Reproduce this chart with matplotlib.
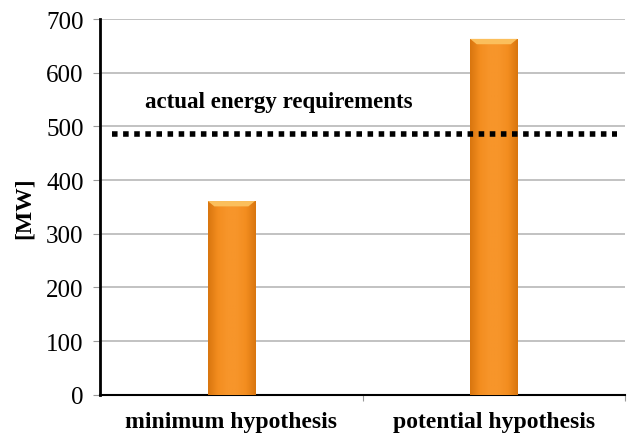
import matplotlib.pyplot as plt
import numpy as np
from matplotlib.colors import LinearSegmentedColormap

plt.rcParams['font.family'] = ['Liberation Serif', 'DejaVu Serif']

# data
categories = ['minimum hypothesis', 'potential hypothesis']
power_mw = [361, 663]
requirement_mw = 486
requirement_label = 'actual energy requirements'

fig = plt.figure(figsize=(6.3, 4.35), dpi=100)
ax = fig.add_axes([0.159, 0.09, 0.833, 0.864])

x = np.arange(len(categories))
width = 0.18

# orange bars with slightly darker sides and a light bevel on top
shade = LinearSegmentedColormap.from_list(
    'bar', ['#d9760f', '#f38d1f', '#f7952a', '#f7952a', '#f38d1f', '#d9760f'])
grad = np.linspace(0, 1, 64).reshape(1, -1)
bars = ax.bar(x, power_mw, width, color='#f5901f', edgecolor='#c06a10',
              linewidth=0.6, zorder=3)
for b in bars:
    x0, w, h = b.get_x(), b.get_width(), b.get_height()
    im = ax.imshow(grad, cmap=shade, aspect='auto', zorder=3.1,
                   extent=(x0, x0 + w, 0, h))
    im.set_clip_path(b)
    bev = 10
    ax.fill([x0, x0 + w, x0 + w * 0.86, x0 + w * 0.14],
            [h, h, h - bev, h - bev], color='#fbbf5c', zorder=3.2, lw=0)

ax.axhline(requirement_mw, xmin=0.022, xmax=0.985, color='black',
           linestyle=(0, (1, 1)), linewidth=4, zorder=4)
ax.text(-0.33, 546, requirement_label, fontsize=16.5, fontweight='bold',
        va='center', ha='left')

ax.set_xlim(-0.5, 1.5)
ax.set_ylim(0, 700)
ax.set_yticks(range(0, 701, 100))
ax.yaxis.grid(True, color='#b8b8b8', linewidth=1.2, zorder=0)
ax.set_axisbelow(True)
ax.set_xticks([0.5, 1.5])
ax.set_xticklabels(['', ''])
ax.tick_params(axis='x', length=4, color='#999999')
ax.tick_params(axis='y', length=5, color='#999999', labelsize=18, pad=7)
for i, c in enumerate(categories):
    ax.text(x[i], -30, c, ha='center', va='top', fontsize=17,
            fontweight='bold')

for s in ['top', 'right']:
    ax.spines[s].set_visible(False)
ax.spines['left'].set_linewidth(2)
ax.spines['bottom'].set_linewidth(1.5)

ax.set_ylabel('[MW]', fontsize=17, fontweight='bold', labelpad=8)

fig.savefig('out.png', dpi=100)
